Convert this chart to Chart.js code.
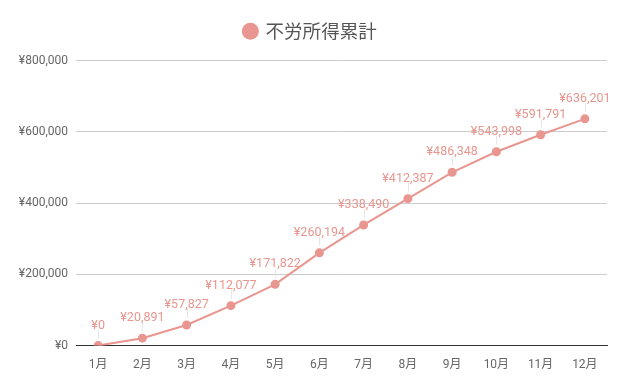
<!DOCTYPE html>
<html>
<head>
<meta charset="utf-8">
<script src="https://cdn.jsdelivr.net/npm/chart.js@4"></script>
<style>
  html, body { margin: 0; padding: 0; background: #fff; }
  #wrap { width: 625px; height: 386px; }
</style>
</head>
<body>
<div id="wrap"><canvas id="chart" width="625" height="386"></canvas></div>
<script>
const months = ['1月', '2月', '3月', '4月', '5月', '6月', '7月', '8月', '9月', '10月', '11月', '12月'];
const cumulative = [0, 20891, 57827, 112077, 171822, 260194, 338490, 412387, 486348, 543998, 591791, 636201];
const yTicks = [0, 200000, 400000, 600000, 800000];

const pink = '#e8968f';
const yen = v => '¥' + v.toLocaleString('en-US');

// labels above each point, with a thin leader line
const pointLabels = {
    id: 'pointLabels',
    afterDatasetsDraw(chart) {
        const ctx = chart.ctx;
        const meta = chart.getDatasetMeta(0);
        ctx.save();
        ctx.font = '12.5px Roboto';
        ctx.textAlign = 'center';
        ctx.textBaseline = 'alphabetic';
        meta.data.forEach((pt, i) => {
            ctx.strokeStyle = '#e6e6e6';
            ctx.lineWidth = 1;
            ctx.beginPath();
            ctx.moveTo(Math.round(pt.x) + 0.5, pt.y - 7);
            ctx.lineTo(Math.round(pt.x) + 0.5, pt.y - 16);
            ctx.stroke();
            ctx.fillStyle = pink;
            ctx.fillText(yen(cumulative[i]), pt.x, pt.y - 17);
        });
        ctx.restore();
    }
};

// push the plot area down below the legend, nudge legend right
const legendGap = {
    id: 'legendGap',
    beforeInit(chart) {
        const legend = chart.legend;
        const fit = legend.fit;
        legend.fit = function () {
            fit.call(this);
            this.height += 10;
        };
        const draw = legend.draw;
        legend.draw = function (...args) {
            chart.ctx.save();
            chart.ctx.translate(7, 0);
            draw.apply(this, args);
            chart.ctx.restore();
        };
    }
};

new Chart(document.getElementById('chart'), {
    type: 'line',
    data: {
        labels: months,
        datasets: [{
            label: '不労所得累計',
            data: cumulative,
            borderColor: pink,
            backgroundColor: pink,
            borderWidth: 2,
            pointRadius: 4.5,
            pointHoverRadius: 4.5,
            pointBackgroundColor: pink,
            pointBorderWidth: 0,
            tension: 0
        }]
    },
    options: {
        responsive: false,
        animation: false,
        layout: { padding: { left: 0, right: 18, top: 8, bottom: 10 } },
        plugins: {
            legend: {
                labels: {
                    usePointStyle: true,
                    pointStyle: 'circle',
                    boxWidth: 12,
                    boxHeight: 12,
                    padding: 14,
                    color: '#555',
                    font: { family: '"Noto Sans CJK JP"', size: 18.5 }
                }
            },
            tooltip: { enabled: false }
        },
        scales: {
            x: {
                offset: true,
                grid: { display: false },
                border: { color: '#333', width: 1 },
                ticks: {
                    color: '#666',
                    padding: 4,
                    font: { family: 'Roboto, "Noto Sans CJK JP"', size: 12 }
                }
            },
            y: {
                min: 0,
                max: 800000,
                afterFit: s => { s.width = 76; },
                afterBuildTicks: s => { s.ticks = yTicks.map(v => ({ value: v })); },
                border: { display: false },
                grid: {
                    drawTicks: false,
                    color: c => c.tick && c.tick.value === 0 ? '#333' : '#cccccc'
                },
                ticks: {
                    color: '#666',
                    padding: 8,
                    font: { family: 'Roboto', size: 12 },
                    callback: v => yen(v)
                }
            }
        }
    },
    plugins: [pointLabels, legendGap]
});
</script>
</body>
</html>
